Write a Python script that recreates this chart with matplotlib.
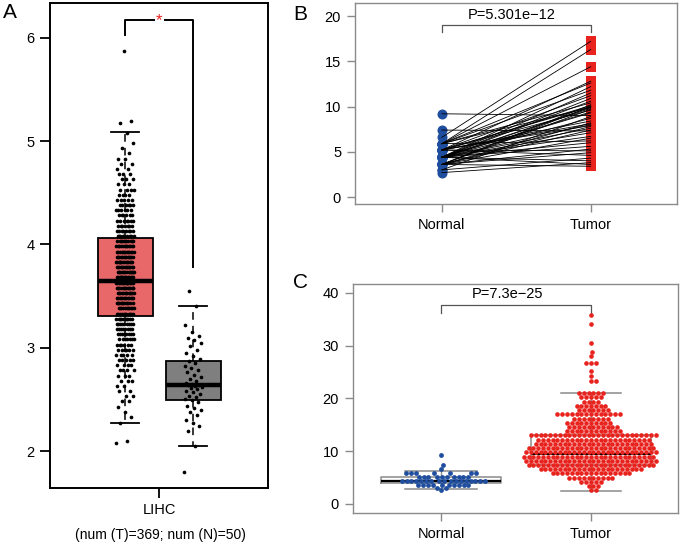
import numpy as np
import matplotlib.pyplot as plt

plt.rcParams['font.family'] = ['Liberation Sans', 'DejaVu Sans']

# ---- panel A (GEPIA style box, log2 scale) ----
tumor_a_levels = [2.08, 2.10, 2.27, 2.33, 2.38, 2.43, 2.48, 2.53, 2.58, 2.63, 2.68,
                  2.73, 2.78, 2.83, 2.88, 2.93, 2.98, 3.03, 3.08, 3.13, 3.18, 3.23,
                  3.28, 3.33, 3.38, 3.43, 3.48, 3.53, 3.58, 3.63, 3.68, 3.73, 3.78,
                  3.83, 3.88, 3.93, 3.98, 4.03, 4.08, 4.13, 4.18, 4.23, 4.28, 4.33,
                  4.38, 4.43, 4.48, 4.53, 4.58, 4.63, 4.68, 4.73, 4.78, 4.83, 4.88,
                  4.93, 4.98, 5.08, 5.17, 5.19, 5.87]
tumor_a_counts = [1, 1, 1, 1, 1, 1, 2, 2, 2, 2, 3,
                  3, 4, 4, 5, 5, 6, 6, 7, 8, 8, 9,
                  10, 11, 11, 12, 13, 13, 14, 14, 14, 14, 14,
                  14, 13, 13, 12, 11, 9, 8, 7, 7, 6, 6,
                  6, 5, 4, 4, 3, 3, 3, 2, 2, 2, 1,
                  1, 1, 1, 1, 1, 1]
normal_a = [1.80, 2.05, 2.19, 2.24, 2.27, 2.30, 2.35, 2.38, 2.40, 2.42, 2.44, 2.47,
            2.49, 2.50, 2.52, 2.53, 2.55, 2.57, 2.58, 2.60, 2.61, 2.62, 2.63, 2.64,
            2.64, 2.65, 2.66, 2.68, 2.70, 2.72, 2.74, 2.76, 2.78, 2.80, 2.82, 2.85,
            2.87, 2.89, 2.92, 2.95, 2.98, 3.02, 3.05, 3.07, 3.09, 3.11, 3.15, 3.22,
            3.40, 3.55]
box_a_q1 = [3.31, 2.49]
box_a_med = [3.65, 2.64]
box_a_q3 = [4.06, 2.87]
box_a_lo = [2.27, 2.05]
box_a_hi = [5.09, 3.40]

# ---- panels B and C ----
normal_vals = [9.2, 7.4, 6.6,
               5.9, 5.9, 5.9, 5.9, 5.9, 5.9, 5.9,
               5.2, 5.2, 5.2, 5.2, 5.2, 5.2, 5.2, 5.2, 5.2, 5.2,
               4.4, 4.4, 4.4, 4.4, 4.4, 4.4, 4.4, 4.4, 4.4, 4.4, 4.4, 4.4,
               4.4, 4.4, 4.4, 4.4, 4.4,
               3.6, 3.6, 3.6, 3.6, 3.6, 3.6, 3.6, 3.6, 3.6, 3.6,
               3.0, 3.0, 2.7]
paired_tumor = [9.0, 7.3, 17.2, 11.8, 16.3, 9.9, 14.4, 10.4, 6.2, 12.6, 8.1, 10.0,
                5.1, 12.8, 9.6, 7.9, 11.2, 4.6, 10.1, 8.4, 6.7, 12.2, 9.8, 4.0, 10.6,
                7.6, 9.3, 5.6, 10.9, 8.0, 3.6, 9.9, 7.1, 11.5, 6.0, 9.4, 8.7, 4.9,
                10.2, 7.8, 3.4, 9.7, 8.2, 6.5, 5.3, 10.0, 7.4, 4.3, 8.9, 3.8]
tumor_c_levels = [2.6, 3.4, 4.2, 5.0, 5.8, 6.6, 7.4, 8.2, 9.0, 9.8, 10.6, 11.4,
                  12.2, 13.0, 13.8, 14.6, 15.4, 16.2, 17.0, 17.8, 18.6, 19.4,
                  20.2, 21.0, 23.3, 24.3, 25.3, 26.8, 28.0, 28.9, 30.6, 34.1, 35.9]
tumor_c_counts = [2, 3, 5, 10, 17, 22, 27, 28, 28, 28, 27, 25,
                  24, 27, 12, 11, 10, 8, 14, 7, 7, 4,
                  5, 6, 2, 1, 1, 3, 1, 1, 1, 1, 1]
box_c_q1 = [4.0, 7.3]
box_c_med = [4.4, 9.5]
box_c_q3 = [5.1, 13.0]
box_c_lo = [2.8, 2.5]
box_c_hi = [6.3, 21.1]
groups = ['Normal', 'Tumor']
p_b = 'P=5.301e\u221212'
p_c = 'P=7.3e\u221225'

BLUE = '#1f4e9e'
RED = '#e8231e'
GRAY = '#8a8a8a'

fig = plt.figure(figsize=(6.8, 5.44), dpi=100)


def add_ax(l, t, r, b):
    return fig.add_axes([l / 680, 1 - b / 544, (r - l) / 680, (b - t) / 544])


def jitter(n, half):
    # deterministic spread of point positions
    return ((np.arange(n) * 0.618034) % 1 - 0.5) * 2 * half


def swarm(values, ypx, d):
    vals = np.asarray(values, float)
    xs = np.zeros(len(vals))
    px, py = [], []
    for i in np.argsort(vals, kind='stable'):
        y = vals[i] * ypx
        x = 0.0
        if px:
            ax_ = np.array(px)
            ay = np.array(py)
            near = np.abs(ay - y) < d
            nx, ny = ax_[near], ay[near]
            dx = np.sqrt(d * d - (ny - y) ** 2)
            cands = np.concatenate([[0.0], nx + dx, nx - dx])
            cands = cands[np.argsort(np.abs(cands), kind='stable')]
            for c in cands:
                if np.all((nx - c) ** 2 + (ny - y) ** 2 >= d * d - 1e-6):
                    x = c
                    break
        xs[i] = x
        px.append(x)
        py.append(y)
    return xs


# ===== A =====
axA = add_ax(50, 3, 268, 488)
stats = [dict(q1=box_a_q1[i], med=box_a_med[i], q3=box_a_q3[i],
              whislo=box_a_lo[i], whishi=box_a_hi[i], fliers=[]) for i in range(2)]
bp = axA.bxp(stats, positions=[1, 2], widths=0.81, patch_artist=True,
             capwidths=0.41,
             boxprops=dict(edgecolor='black', linewidth=1.3),
             whiskerprops=dict(color='black', linewidth=1.1, linestyle=(0, (5, 4))),
             capprops=dict(color='black', linewidth=1.3),
             medianprops=dict(color='black', linewidth=3.2, solid_capstyle='butt'))
for patch, fc in zip(bp['boxes'], ['#e8686a', '#7f7f7f']):
    patch.set_facecolor(fc)

tumor_a = np.repeat(tumor_a_levels, tumor_a_counts)
axA.scatter(1 + jitter(len(tumor_a), 0.13), tumor_a, s=7, color='black',
            linewidths=0, zorder=4)
axA.scatter(2 + jitter(len(normal_a), 0.13), normal_a, s=7, color='black',
            linewidths=0, zorder=4)

# significance bracket
axA.plot([1, 1, 1.42], [6.03, 6.17, 6.17], color='black', lw=1.4)
axA.plot([1.58, 2, 2], [6.17, 6.17, 3.78], color='black', lw=1.4)
axA.text(1.5, 6.17, '*', color='#e8231e', ha='center', va='center', fontsize=12)

axA.set_xlim(-0.103, 3.10)
axA.set_ylim(1.642, 6.336)
axA.set_yticks([2, 3, 4, 5, 6])
axA.set_xticks([1.5])
axA.set_xticklabels(['LIHC'])
for s in axA.spines.values():
    s.set_linewidth(1.4)
axA.tick_params(direction='out', length=7, width=1.3, labelsize=10.5, pad=4)
fig.text(160 / 680, 1 - 535 / 544, '(num (T)=369; num (N)=50)', ha='center',
         va='center', fontsize=10)

# ===== B =====
axB = add_ax(355, 3, 677, 204)
for n_v, t_v in zip(normal_vals, paired_tumor):
    axB.plot([1, 2], [n_v, t_v], color='black', lw=0.6, zorder=3)
axB.scatter(np.ones(len(normal_vals)), normal_vals, s=52, color=BLUE,
            linewidths=0, zorder=2)
axB.scatter(np.full(len(paired_tumor), 2), paired_tumor, s=52, marker='s',
            color=RED, linewidths=0, zorder=2)
axB.plot([1, 1, 2, 2], [18.2, 19.0, 19.0, 18.2], color='#555555', lw=0.9)
axB.text(1.47, 19.3, p_b, ha='center', va='bottom', fontsize=10.5)
axB.set_xlim(0.416, 2.58)
axB.set_ylim(-0.77, 21.44)
axB.set_yticks([0, 5, 10, 15, 20])

# ===== C =====
axC = add_ax(353, 284, 678, 513)
stats = [dict(q1=box_c_q1[i], med=box_c_med[i], q3=box_c_q3[i],
              whislo=box_c_lo[i], whishi=box_c_hi[i], fliers=[]) for i in range(2)]
axC.bxp(stats, positions=[1, 2], widths=0.8, capwidths=[0.48, 0.4],
        boxprops=dict(color=GRAY, linewidth=1.1),
        whiskerprops=dict(color=GRAY, linewidth=1.0),
        capprops=dict(color=GRAY, linewidth=1.1),
        medianprops=dict(color='black', linewidth=1.6))
d_px = 4.8
ypx_c = 5.275
xpx_c = 150.0
tumor_c = np.repeat(tumor_c_levels, tumor_c_counts)
axC.scatter(1 + swarm(normal_vals, ypx_c, d_px) / xpx_c, normal_vals, s=12,
            color=BLUE, linewidths=0, zorder=3)
axC.scatter(2 + swarm(tumor_c, ypx_c, d_px) / xpx_c, tumor_c, s=11,
            color=RED, linewidths=0, zorder=3)
axC.plot([1, 1, 2, 2], [36.2, 37.8, 37.8, 36.2], color='#555555', lw=0.9)
axC.text(1.44, 38.4, p_c, ha='center', va='bottom', fontsize=10.5)
axC.set_xlim(0.413, 2.58)
axC.set_ylim(-1.71, 41.7)
axC.set_yticks([0, 10, 20, 30, 40])

for ax in (axB, axC):
    ax.set_xticks([1, 2])
    ax.set_xticklabels(groups)
    for s in ax.spines.values():
        s.set_color(GRAY)
        s.set_linewidth(1.0)
    ax.tick_params(direction='out', length=6, width=1.0, color=GRAY,
                   labelsize=10.5, pad=4)

fig.text(10 / 680, 1 - 12 / 544, 'A', fontsize=15, ha='center', va='center')
fig.text(300 / 680, 1 - 15 / 544, 'B', fontsize=15, ha='center', va='center')
fig.text(300 / 680, 1 - 283 / 544, 'C', fontsize=15, ha='center', va='center')

fig.savefig('out.png', dpi=100)
